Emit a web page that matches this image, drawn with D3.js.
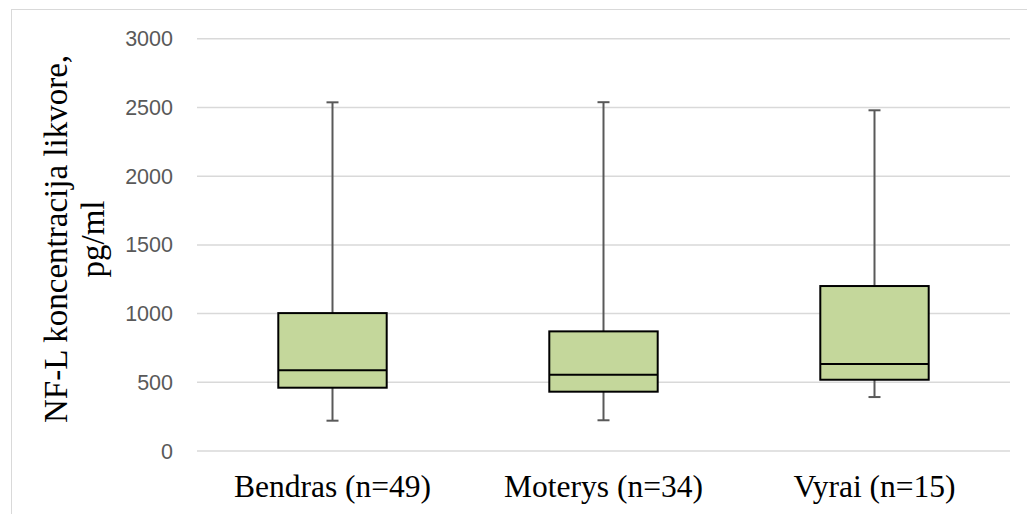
<!DOCTYPE html>
<html><head><meta charset="utf-8">
<script src="https://cdn.jsdelivr.net/npm/d3@7"></script>
<style>body{margin:0;background:#fff}svg{display:block}</style>
</head><body>
<svg id="chart" width="1027" height="514"></svg>
<script>
const categories = ["Bendras (n=49)", "Moterys (n=34)", "Vyrai (n=15)"];
const minValues = [217, 220, 389];
const q1Values = [457, 428, 515];
const medianValues = [584, 552, 630];
const q3Values = [1000, 867, 1197];
const maxValues = [2534, 2535, 2476];
const yTicks = [0, 500, 1000, 1500, 2000, 2500, 3000];
const yTitleLines = ["NF-L koncentracija likvore,", "pg/ml"];

const svg = d3.select("#chart");
svg.append("rect").attr("x", 11.5).attr("y", 9.5).attr("width", 1020).attr("height", 520)
  .attr("fill", "#fff").attr("stroke", "#d9d9d9").attr("stroke-width", 1);

const y = d3.scaleLinear().domain([0, 3000]).range([450.5, 38.3]);
const x = d3.scaleBand().domain(categories).range([197, 1010]);

// gridlines + tick labels
const yAxis = d3.axisLeft(y).tickValues(yTicks).tickFormat(d3.format("d")).tickSize(-(1010 - 197)).tickPadding(24);
const gy = svg.append("g").attr("transform", "translate(197,0)").call(yAxis);
gy.select(".domain").remove();
gy.selectAll(".tick line").attr("stroke", "#d9d9d9").attr("stroke-width", 1.5);
gy.selectAll(".tick text").attr("fill", "#595959").attr("font-family", "Liberation Sans, Arial, sans-serif")
  .attr("font-size", 21.5).attr("dy", "0.35em");

// x labels
const xAxis = d3.axisBottom(x).tickSize(0).tickPadding(0);
const gx = svg.append("g").attr("transform", "translate(0,450.5)").call(xAxis);
gx.select(".domain").remove();
gx.selectAll(".tick text").attr("fill", "#000").attr("font-family", "Liberation Serif, Times New Roman, serif")
  .attr("font-size", 31.5).attr("y", 46.5).attr("dy", 0);

// boxes
const data = categories.map((c, i) => ({c, min: minValues[i], q1: q1Values[i], med: medianValues[i], q3: q3Values[i], max: maxValues[i]}));
const bw = x.bandwidth() * 0.4;
const capW = 12;
const g = svg.append("g");
data.forEach(d => {
  const cx = x(d.c) + x.bandwidth() / 2;
  const wc = "#595959";
  g.append("line").attr("x1", cx).attr("x2", cx).attr("y1", y(d.max)).attr("y2", y(d.q3)).attr("stroke", wc).attr("stroke-width", 2);
  g.append("line").attr("x1", cx).attr("x2", cx).attr("y1", y(d.q1)).attr("y2", y(d.min)).attr("stroke", wc).attr("stroke-width", 2);
  g.append("line").attr("x1", cx - capW/2).attr("x2", cx + capW/2).attr("y1", y(d.max)).attr("y2", y(d.max)).attr("stroke", wc).attr("stroke-width", 2);
  g.append("line").attr("x1", cx - capW/2).attr("x2", cx + capW/2).attr("y1", y(d.min)).attr("y2", y(d.min)).attr("stroke", wc).attr("stroke-width", 2);
  g.append("rect").attr("x", cx - bw/2).attr("y", y(d.q3)).attr("width", bw).attr("height", y(d.q1) - y(d.q3))
    .attr("fill", "#c4d79b").attr("stroke", "#000").attr("stroke-width", 2);
  g.append("line").attr("x1", cx - bw/2).attr("x2", cx + bw/2).attr("y1", y(d.med)).attr("y2", y(d.med)).attr("stroke", "#000").attr("stroke-width", 2);
});

// y title
const t = svg.append("text").attr("transform", "translate(67,239) rotate(-90)")
  .attr("text-anchor", "middle").attr("font-family", "Liberation Serif, Times New Roman, serif").attr("font-size", 33).attr("fill", "#000");
t.append("tspan").attr("x", 0).attr("y", 0).text(yTitleLines[0]);
t.append("tspan").attr("x", 0).attr("y", 37).text(yTitleLines[1]);
</script>
</body></html>
